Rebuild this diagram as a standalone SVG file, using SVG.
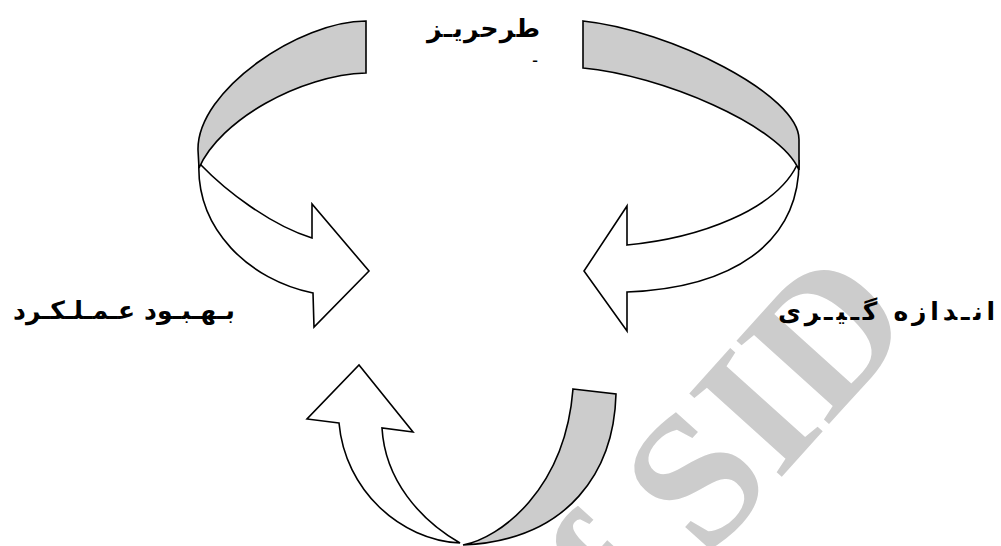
<svg xmlns="http://www.w3.org/2000/svg" width="1001" height="546" viewBox="0 0 1001 546">
<style>
.band{fill:#cccccc;stroke:#000;stroke-width:1.6;stroke-linejoin:miter}
.front{fill:#ffffff;stroke:#000;stroke-width:1.6;stroke-linejoin:miter}
.lbl{font-family:"DejaVu Sans",sans-serif;font-weight:bold;fill:#000}
.wm{font-family:"Liberation Serif",serif;font-weight:bold;fill:#cccccc}
</style>
<rect width="1001" height="546" fill="#ffffff"/>
<text class="wm" font-size="190" transform="translate(569,713) rotate(-48)">of SID</text>
<g id="connectors">
  <g id="arrow-left">
    <path class="front" d="M199,160 C195,230 250,280 313,293 L314,327 L369,271 L312,204 L312,238 C270,225 225,190 201,165 Z"/>
    <path class="band" d="M366,21 C300,21 197,90 198,150 L199,168 C220,120 300,75 366,73 Z"/>
  </g>
  <g id="arrow-right">
    <path class="front" d="M799,160 C800,245 730,288 627,292 L627,331 L584,271 L627,206 L627,245 C700,238 775,210 797,165 Z"/>
    <path class="band" d="M583,21 C670,30 800,95 799,140 L799,170 C780,125 660,75 583,68 Z"/>
  </g>
  <g id="arrow-bottom">
    <path class="band" d="M573,389 L616,394 C614,470 570,540 463,545 C500,538 565,490 573,389 Z"/>
    <path class="front" d="M339,423 L307,419 L359,365 L413,432 L382,428 C385,480 420,520 460,543 C400,540 345,490 339,423 Z"/>
  </g>
</g>
<g id="node-planning">
  <text class="lbl" font-size="25" x="427" y="37" textLength="113" lengthAdjust="spacing">طرحریـز</text>
  <text class="lbl" font-size="12" x="535" y="62" text-anchor="middle">ـ</text>
</g>
<g id="node-improvement">
  <text class="lbl" font-size="25" x="13" y="319" textLength="222" lengthAdjust="spacing">بـهـبـود  عـمـلـکـرد</text>
</g>
<g id="node-measurement">
  <text class="lbl" font-size="25" x="778" y="320" textLength="217" lengthAdjust="spacing">انـدازه  گـیـری</text>
</g>
</svg>
